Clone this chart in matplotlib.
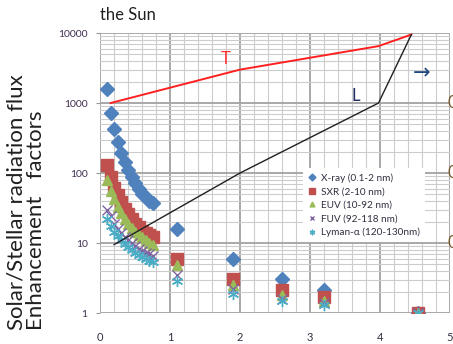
import numpy as np
import matplotlib
matplotlib.use('Agg')
import matplotlib.pyplot as plt
from matplotlib.ticker import MultipleLocator, LogLocator, NullFormatter

# data
ageDense = [0.1, 0.15, 0.2, 0.25, 0.3, 0.35, 0.4, 0.45, 0.5, 0.55, 0.6, 0.65, 0.7, 0.75]
ageSparse = [1.1, 1.9, 2.6, 3.2, 4.55]

xray = [1600, 720, 420, 280, 195, 145, 110, 88, 72, 60, 51, 45, 40, 37] + [16, 6.0, 3.1, 2.1, 1.0]
sxr = [130, 88, 62, 48, 38, 31, 26, 22, 19, 17, 15, 14, 13, 12] + [6.0, 3.1, 2.1, 1.7, 1.0]
euv = [80, 55, 42, 33, 27, 22, 19, 16.5, 14.5, 13, 12, 11, 10, 9.4] + [4.8, 2.5, 1.8, 1.5, 1.0]
fuv = [30, 24, 19, 16, 14, 12, 11, 10, 9, 8.3, 7.7, 7.2, 6.9, 6.6] + [3.5, 2.2, 1.6, 1.4, 1.0]
lyman = [22, 17.5, 14.5, 12.5, 11, 9.8, 8.8, 8.0, 7.3, 6.8, 6.3, 5.9, 5.6, 5.3] + [2.9, 1.9, 1.5, 1.3, 1.0]

tAge = [0.15, 2.0, 3.98, 4.45]
tValue = [1000, 3000, 6500, 9500]
lAge = [0.2, 2.0, 3.98, 4.45]
lValue = [9.5, 100, 1000, 9500]

seriesNames = ['X-ray (0.1-2 nm)', 'SXR (2-10 nm)', 'EUV (10-92 nm)', 'FUV (92-118 nm)', 'Lyman-\u03b1 (120-130nm)']
seriesColors = ['#4F81BD', '#C0504D', '#9BBB59', '#8064A2', '#4BACC6']
seriesMarkers = ['D', 's', '^', 'x', (6, 2, 0)]
seriesSizes = [7, 8, 7, 7, 8]

plt.rcParams['font.family'] = ['Lato', 'DejaVu Sans']

fig = plt.figure(figsize = (4.53, 3.44), dpi = 100)
ax = fig.add_axes([0.221, 0.090, 0.772, 0.814])
ax.set_yscale('log')
ax.set_xlim(0, 5)
ax.set_ylim(1, 10000)

ax.xaxis.set_major_locator(MultipleLocator(1))
ax.xaxis.set_minor_locator(MultipleLocator(0.2))
ax.yaxis.set_major_locator(LogLocator(base = 10))
ax.yaxis.set_minor_locator(LogLocator(base = 10, subs = np.arange(2, 10)))
ax.yaxis.set_minor_formatter(NullFormatter())
ax.set_yticks([1, 10, 100, 1000, 10000])
ax.set_yticklabels(['1', '10', '100', '1000', '10000'])

ax.grid(True, which = 'major', color = '#a8a8a8', lw = 1.4, zorder = 0)
ax.grid(True, which = 'minor', color = '#cccccc', lw = 0.8, zorder = 0)
ax.set_axisbelow(True)
for spine in ax.spines.values():
    spine.set_visible(False)
ax.tick_params(axis = 'y', which = 'major', length = 3, color = '#999999', pad = 6, labelsize = 7.5, labelcolor = '#403050')
ax.tick_params(axis = 'x', which = 'major', length = 0, pad = 14, labelsize = 8, labelcolor = '#303040')
ax.tick_params(which = 'minor', length = 0)

allAges = ageDense + ageSparse
for values, name, color, marker, size in zip([xray, sxr, euv, fuv, lyman], seriesNames, seriesColors, seriesMarkers, seriesSizes):
    ax.plot(allAges, values, ls = 'none', marker = marker, ms = size, color = color, mec = color, mew = 1.0, label = name, zorder = 3)

ax.plot(tAge, tValue, color = '#ff2020', lw = 1.4, zorder = 4)
ax.plot(lAge, lValue, color = '#202020', lw = 1.0, zorder = 4)
ax.text(1.8, 4200, 'T', color = '#ff3030', fontsize = 12, ha = 'center', va = 'center')
ax.text(3.66, 1250, 'L', color = '#1f2f5f', fontsize = 12, ha = 'center', va = 'center')
ax.text(4.6, 800 * 3.3, '\u2192', color = '#1f497d', fontsize = 15, ha = 'center', va = 'center', family = 'DejaVu Sans')

leg = ax.legend(loc = 'upper left', bbox_to_anchor = (0.565, 0.535), frameon = True, fontsize = 7.2,
                markerscale = 0.5, handlelength = 0.8, handletextpad = 0.5, labelspacing = 0.45,
                borderpad = 0.5, fancybox = False)
leg.get_frame().set_edgecolor('none')
leg.get_frame().set_facecolor('white')
leg.get_frame().set_alpha(1)
for text in leg.get_texts():
    text.set_color('#303040')

fig.text(0.221, 0.955, 'the Sun', fontsize = 12, ha = 'left', va = 'center', color = '#202020')
fig.text(0.058, 0.040, 'Solar/Stellar radiation flux\nEnhancement   factors', rotation = 90,
         fontsize = 16, ha = 'center', va = 'bottom', multialignment = 'left', linespacing = 0.95, color = '#202020')
for yFrac in [1 - 103 / 344, 1 - 173 / 344, 1 - 243 / 344]:
    fig.text(0.988, yFrac, '0', fontsize = 12, ha = 'left', va = 'center', color = '#7a5a30')

plt.savefig('out.png', dpi = 100)
